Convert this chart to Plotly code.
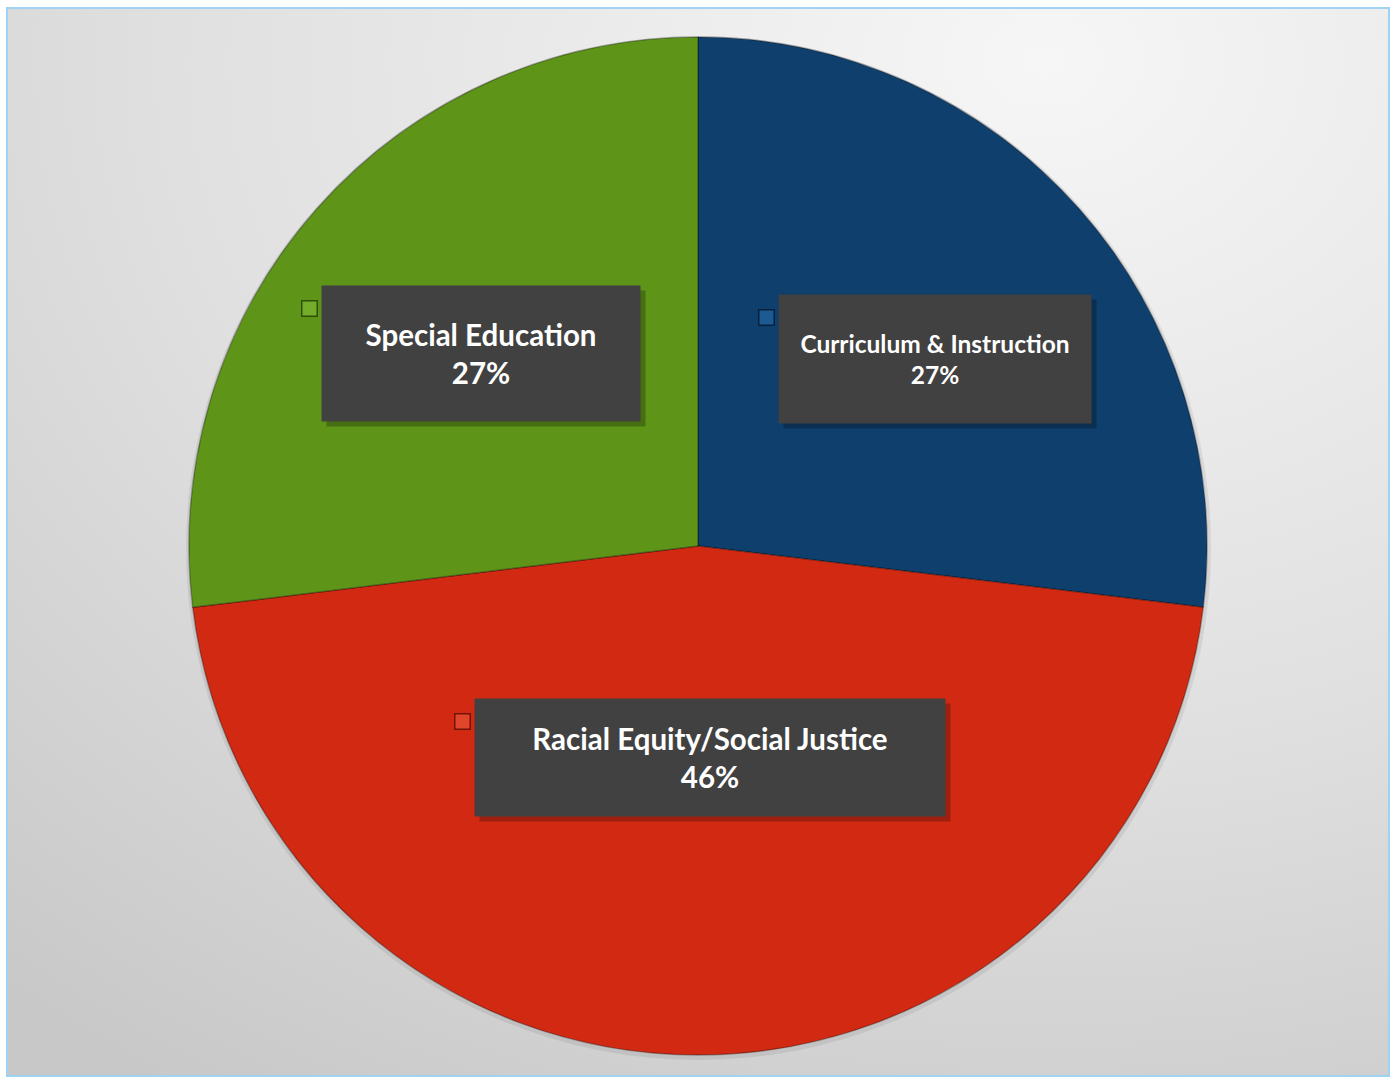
import base64
import math
import plotly.graph_objects as go

# ---- data ----
categories = ["Curriculum & Instruction", "Racial Equity/Social Justice", "Special Education"]
values = [7, 12, 7]

# ---- style ----
slice_colors = ["#0f3f6c", "#d22a12", "#5e9518"]
key_fill = ["#1d5a92", "#e2462a", "#74ad2a"]
edge_colors = ["#06203c", "#6e1306", "#2e4f0a"]
label_font_sizes = [24.5, 29.5, 29.5]
label_box_w = [312, 470, 318]
label_box_h = [128, 117, 135]
label_radius = [0.60, 0.42, 0.57]
label_shift = [(8, -16), (12, 2), (0, 0)]

W, H = 1396, 1078
CX, CY, R = 698, 546, 509  # pixel geometry of the pie

dom_x = [(CX - R) / W, (CX + R) / W]
dom_y = [(H - CY - R) / H, (H - CY + R) / H]

fig = go.Figure()
fig.add_trace(go.Pie(
    labels=categories,
    values=values,
    sort=False,
    direction="clockwise",
    rotation=0,
    marker=dict(colors=slice_colors, line=dict(color="rgba(0,0,0,0.30)", width=1.5)),
    textinfo="none",
    hoverinfo="label+percent",
    showlegend=False,
    domain=dict(x=dom_x, y=dom_y),
))

total = sum(values)
annotations = []
cum = 0.0
for i, (cat, v) in enumerate(zip(categories, values)):
    mid = (cum + v / 2) / total * 2 * math.pi
    cum += v
    pct = round(v / total * 100)
    bx = CX + label_radius[i] * R * math.sin(mid) + label_shift[i][0]
    by = CY - label_radius[i] * R * math.cos(mid) - label_shift[i][1]
    w, h = label_box_w[i], label_box_h[i]
    fs = label_font_sizes[i]
    txt = f"<b>{cat}</b><br><b>{pct}%</b>"
    # shadow
    annotations.append(dict(
        x=(bx + 5) / W, y=(H - by - 5) / H, xref="paper", yref="paper",
        text=" ", showarrow=False, width=w, height=h, borderpad=0,
        bgcolor="rgba(0,0,0,0.25)", xanchor="center", yanchor="middle",
    ))
    annotations.append(dict(
        x=bx / W, y=(H - by) / H, xref="paper", yref="paper",
        text=txt, showarrow=False, width=w, height=h, borderpad=0,
        bgcolor="#414141", align="center", valign="middle",
        font=dict(family="Lato", size=fs, color="white"),
        xanchor="center", yanchor="middle",
    ))
    # legend key square
    kx = bx - w / 2 - 4 - 8.5
    ky = by - h / 2 + 14 + 8.5
    annotations.append(dict(
        x=kx / W, y=(H - ky) / H, xref="paper", yref="paper",
        text=" ", showarrow=False, width=14, height=14, borderpad=0,
        bgcolor=key_fill[i], bordercolor=edge_colors[i], borderwidth=1.5,
        xanchor="center", yanchor="middle",
    ))

svg = f"""<svg xmlns='http://www.w3.org/2000/svg' width='{W}' height='{H}'>
<defs><radialGradient id='g' cx='0.75' cy='0.05' r='1.15'>
<stop offset='0' stop-color='#f6f6f6'/><stop offset='0.55' stop-color='#e0e0e0'/>
<stop offset='1' stop-color='#c8c8c8'/></radialGradient></defs>
<rect width='100%' height='100%' fill='url(#g)'/></svg>"""
src = "data:image/svg+xml;base64," + base64.b64encode(svg.encode()).decode()

shapes = [
    dict(type="circle", xref="paper", yref="paper", layer="below",
         x0=(CX - R - 3) / W, x1=(CX + R + 4) / W,
         y0=(H - CY - R - 5) / H, y1=(H - CY + R + 1) / H,
         fillcolor="rgba(0,0,0,0.07)", line=dict(width=0)),
    dict(type="rect", xref="paper", yref="paper", layer="above",
         x0=7 / W, x1=1389 / W, y0=(H - 1076) / H, y1=(H - 8) / H,
         line=dict(color="#9fd3f3", width=2), fillcolor="rgba(0,0,0,0)"),
]

fig.update_layout(
    width=W, height=H,
    margin=dict(l=0, r=0, t=0, b=0),
    paper_bgcolor="white",
    plot_bgcolor="white",
    annotations=annotations,
    shapes=shapes,
    images=[dict(source=src, xref="paper", yref="paper", x=7 / W, y=(H - 8) / H,
                 sizex=(1389 - 7) / W, sizey=(1076 - 8) / H, sizing="stretch",
                 xanchor="left", yanchor="top", layer="below")],
)

fig.write_html("out.html", config={"displayModeBar": False},
               post_script="document.body.style.margin='0';document.body.style.overflow='hidden';")
